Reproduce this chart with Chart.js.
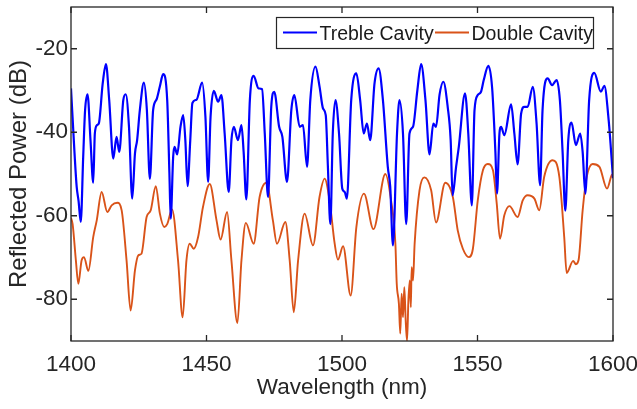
<!DOCTYPE html>
<html>
<head>
<meta charset="utf-8">
<script src="https://cdn.jsdelivr.net/npm/chart.js@4.4.1/dist/chart.umd.min.js"></script>
<style>
  html, body { margin: 0; padding: 0; background: #ffffff; }
  #wrap { width: 637px; height: 409px; position: relative; }
</style>
</head>
<body>
<div id="wrap"><canvas id="c" width="637" height="409"></canvas></div>
<script>
// ---- data ----
const seriesNames = ['Treble Cavity', 'Double Cavity'];
const xTicks = [1400, 1450, 1500, 1550, 1600];
const yTicks = [-80, -60, -40, -20];
const xTitle = 'Wavelength (nm)';
const yTitle = 'Reflected Power (dB)';

const trebleWl = [1400,1401.3,1402.1,1402.8,1403.6,1404.5,1405.2,1406.1,1407.2,1408.2,1408.8,1409.6,1410.3,1411.7,1412.9,1414.1,1415.6,1416.8,1417.8,1419.3,1420.2,1421.4,1422.6,1423.6,1424.4,1425.4,1426.9,1428,1429.1,1430.3,1431.6,1432.8,1434,1435.5,1436.3,1436.8,1437.7,1438.2,1439.2,1440.4,1441.4,1442.2,1443,1444,1444.8,1446.3,1448.4,1449.6,1450.6,1451.5,1452.7,1454.3,1455.5,1456.7,1458.2,1459.2,1460.1,1461.6,1462.9,1463.7,1464.7,1466,1467.4,1469.2,1470.5,1471.5,1472.7,1473.9,1475,1476.8,1478,1479.7,1481.3,1482.4,1484.4,1485.6,1487.1,1488.3,1490.2,1491.7,1493,1494,1494.8,1495.7,1496.6,1497.6,1498.9,1500.1,1501,1501.8,1503.4,1505.3,1506.7,1508,1509.2,1510.4,1512,1513.5,1515.1,1516.9,1517.8,1518.8,1520.3,1521.2,1522.5,1523.7,1524.9,1526.2,1527.8,1529.2,1530.8,1532.3,1533.7,1534.7,1536,1537.4,1539,1540.1,1540.8,1542.1,1543.1,1545.4,1546.6,1547.9,1548.9,1550.1,1551.3,1552.3,1554,1555.4,1556.6,1557.2,1558.1,1558.7,1559.9,1562.4,1563.6,1564.8,1566.1,1567.3,1568.5,1570.4,1571.8,1573.1,1574,1575.9,1577.5,1579.2,1580.4,1581.4,1582.4,1583.5,1584.7,1586.3,1587.9,1588.8,1589.8,1591.2,1593.1,1595.5,1596.8,1598.4,1600];
const trebleDb = [-29.5,-45,-53.1,-56.5,-61.5,-45.9,-34.7,-30.9,-42,-52.1,-40.3,-38.3,-37.8,-28.3,-23.7,-32.3,-46.3,-41.1,-44.7,-32.3,-30.9,-38.7,-55.9,-45.1,-41.9,-34.7,-28.1,-34.7,-51.2,-34.7,-32.1,-29,-26.1,-32.3,-49.6,-60.7,-45.9,-43.5,-45.3,-38.7,-35.9,-42,-52.9,-42,-33,-32.2,-28.1,-36.3,-51.9,-36.3,-30.1,-32.7,-31.1,-40.3,-54.3,-41.9,-38.7,-41.9,-38.3,-44.7,-56.1,-32.3,-26.5,-29.5,-29.7,-40.3,-55.5,-33.9,-30.3,-38.7,-41.1,-51.9,-34.7,-31.1,-38.7,-38.3,-48.3,-32.3,-24.3,-29,-34.3,-35.9,-48.3,-62,-40.3,-32.3,-40.3,-53.5,-54.3,-55.9,-32.3,-25.9,-32.3,-40.3,-37.9,-41.9,-28.3,-24.7,-32.3,-48.3,-53.1,-67.1,-40.3,-32.3,-40.3,-62,-40.3,-38.7,-30,-23.7,-32.3,-45.3,-37.9,-38.7,-31,-27.9,-33.9,-41.9,-55.1,-48.3,-43.5,-30.7,-40.3,-57.5,-34.7,-31.1,-30.3,-27.5,-24.1,-29.4,-44.7,-54.7,-40.3,-38.7,-40.7,-33.3,-40.3,-47.7,-35.5,-33.9,-33.9,-29.1,-37.9,-52.7,-34.7,-27.1,-28.7,-27.5,-32.3,-44.7,-58.8,-41.9,-37.7,-43.1,-40.3,-44.7,-54.7,-32.3,-25.8,-30.3,-28.9,-37.1,-51];

const doubleWl = [1400,1400.6,1401.8,1402.7,1403.9,1404.8,1406.4,1408.2,1409.5,1411.3,1413.4,1415,1417.1,1418.7,1420.5,1422,1423.6,1424.8,1426,1427.9,1429.4,1431.3,1432.8,1434.4,1435.5,1437.3,1439.5,1441.2,1442.6,1443.8,1445.3,1446.9,1448.7,1451.2,1453.7,1455.2,1457.6,1459.2,1461.4,1462.9,1464.5,1467.4,1469.6,1472.1,1474.5,1476,1479.1,1480.7,1482.2,1483.8,1486.2,1489.3,1491.7,1493.6,1495.4,1497.3,1498.5,1500.4,1503.2,1505.3,1508.1,1511.6,1516,1518.1,1519.7,1520.2,1521,1521.5,1522,1522.5,1523,1523.5,1524,1524.5,1525,1525.4,1525.7,1526.2,1526.8,1528.6,1530.4,1532.9,1534.7,1538.1,1540.9,1542.7,1544.6,1546.8,1548.3,1550.1,1552,1553.8,1555.7,1557.1,1558.3,1559.9,1561.8,1564.8,1566.7,1568.5,1571,1572.8,1574.6,1577.7,1580.2,1582,1582.9,1585.3,1586.3,1587.3,1588.8,1590.3,1592.5,1595,1597.8,1599.5,1600];
const doubleDb = [-60.5,-62,-70.7,-76.3,-70.7,-69.9,-73.2,-65.1,-61.1,-54.3,-59.1,-57.5,-56.9,-58.7,-70.7,-82.7,-73.1,-69.5,-69.1,-60.3,-58.7,-52.9,-59.5,-62.7,-62,-58.5,-70.7,-84.3,-70.7,-66.7,-67.9,-65.1,-57.9,-52.4,-61.1,-65.7,-59.1,-70.7,-85.7,-70.7,-61.7,-66.7,-55.5,-52.1,-61.1,-66.7,-61.5,-70.7,-83.1,-70.7,-59.5,-67.1,-55.5,-51.1,-56.3,-66.7,-70.5,-67.3,-79.1,-62.7,-54.7,-63.2,-50,-56.3,-66.7,-76.3,-81.1,-88.2,-78.7,-84.3,-77.1,-85.1,-90,-80.3,-75.5,-81.9,-72.3,-75.5,-66.7,-53.9,-50.8,-53.9,-61.6,-52.1,-55.5,-63.5,-67.9,-69.9,-67.9,-56.3,-49.1,-47.6,-49.1,-57.1,-65.5,-59.9,-57.7,-60.3,-56.3,-55.1,-55.9,-58.7,-50.7,-46.7,-50.7,-65.1,-73.7,-70.8,-71.6,-70.6,-58.7,-50.7,-47.6,-48.3,-53.5,-50.3,-50];

// ---- build datasets ----
const toPts = (xs, ys) => xs.map((x, i) => ({ x: x, y: ys[i] }));
const AXIS = '#262626';
const FONT = '"Liberation Sans", Arial, Helvetica, sans-serif';

const framePlugin = {
  id: 'frameTicks',
  afterDraw(chart) {
    const { ctx, chartArea: a, scales } = chart;
    const xs = scales.x, ys = scales.y;
    ctx.save();
    ctx.strokeStyle = AXIS;
    ctx.lineWidth = 1.3;
    ctx.strokeRect(a.left, a.top, a.right - a.left, a.bottom - a.top);
    const L = 6;
    ctx.beginPath();
    xTicks.forEach(v => {
      const px = xs.getPixelForValue(v);
      ctx.moveTo(px, a.bottom); ctx.lineTo(px, a.bottom - L);
      ctx.moveTo(px, a.top); ctx.lineTo(px, a.top + L);
    });
    yTicks.forEach(v => {
      const py = ys.getPixelForValue(v);
      ctx.moveTo(a.left, py); ctx.lineTo(a.left + L, py);
      ctx.moveTo(a.right, py); ctx.lineTo(a.right - L, py);
    });
    ctx.stroke();

    // legend box (inside the plot, top right)
    const bx = 276.5, by = 17.5, bw = 317, bh = 31;
    ctx.fillStyle = '#ffffff';
    ctx.fillRect(bx, by, bw, bh);
    ctx.lineWidth = 1.2;
    ctx.strokeStyle = AXIS;
    ctx.strokeRect(bx, by, bw, bh);
    const items = chart.data.datasets;
    const lineX = [283, 435];
    const textX = [319.5, 471.5];
    ctx.font = '19.5px ' + FONT;
    ctx.textBaseline = 'alphabetic';
    ctx.textAlign = 'left';
    items.forEach((d, i) => {
      ctx.strokeStyle = d.borderColor;
      ctx.lineWidth = 1.8;
      ctx.beginPath();
      ctx.moveTo(lineX[i], 32.5); ctx.lineTo(lineX[i] + 34, 32.5);
      ctx.stroke();
      ctx.fillStyle = '#1a1a1a';
      ctx.fillText(d.label, textX[i], 40);
    });
    ctx.restore();
  }
};

new Chart(document.getElementById('c'), {
  type: 'line',
  data: {
    datasets: [
      { label: seriesNames[0], data: toPts(trebleWl, trebleDb), borderColor: '#0000ff', backgroundColor: '#0000ff',
        borderWidth: 2.2, pointRadius: 0, cubicInterpolationMode: 'monotone', fill: false },
      { label: seriesNames[1], data: toPts(doubleWl, doubleDb), borderColor: '#d95319', backgroundColor: '#d95319',
        borderWidth: 1.9, pointRadius: 0, cubicInterpolationMode: 'monotone', fill: false }
    ]
  },
  options: {
    responsive: false,
    animation: false,
    devicePixelRatio: 1,
    layout: { padding: { top: 7, right: 24, left: 0, bottom: 0 } },
    plugins: { legend: { display: false }, tooltip: { enabled: false } },
    scales: {
      x: {
        type: 'linear', min: 1400, max: 1600,
        afterBuildTicks: s => { s.ticks = xTicks.map(v => ({ value: v })); },
        afterFit: s => { s.height = 68; s.paddingRight = 0; s.paddingLeft = 0; },
        grid: { display: false, drawTicks: false },
        border: { display: false },
        ticks: { padding: 10, color: AXIS, font: { family: FONT, size: 22.5 }, maxRotation: 0, autoSkip: false,
                 callback: v => String(v) },
        title: { display: true, text: xTitle, color: AXIS, font: { family: FONT, size: 22.5 }, padding: { top: 0, bottom: 8 } }
      },
      y: {
        type: 'linear', min: -90, max: -10,
        afterBuildTicks: s => { s.ticks = yTicks.map(v => ({ value: v })); },
        afterFit: s => { s.width = 71; s.paddingTop = 0; s.paddingBottom = 0; },
        grid: { display: false, drawTicks: false },
        border: { display: false },
        ticks: { padding: 3, color: AXIS, font: { family: FONT, size: 22.5 }, callback: v => String(v) },
        title: { display: true, text: yTitle, color: AXIS, font: { family: FONT, size: 24 }, padding: { top: 5, bottom: 0 } }
      }
    }
  },
  plugins: [framePlugin]
});
</script>
</body>
</html>
